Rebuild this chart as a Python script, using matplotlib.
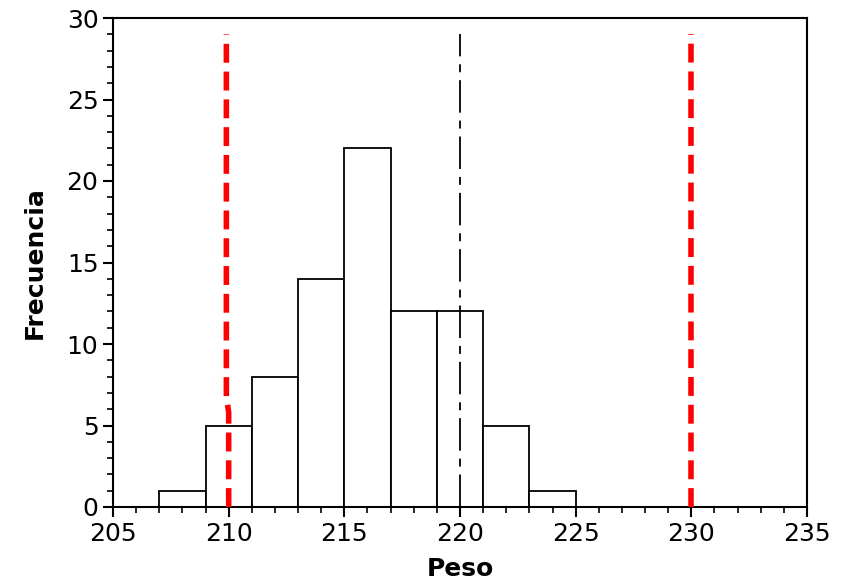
import matplotlib.pyplot as plt
import numpy as np
from matplotlib.ticker import MultipleLocator

bin_edges = [207, 209, 211, 213, 215, 217, 219, 221, 223, 225]
counts = [1, 5, 8, 14, 22, 12, 12, 5, 1]

lower_x = [210, 210, 209.9, 209.9]
lower_y = [0, 5.8, 6.8, 29]
upper_x = [230, 230]
upper_y = [0, 29]
target_x = [220, 220]
target_y = [0, 29]

fig = plt.figure(figsize=(8.47, 5.86), dpi=100)
ax = fig.add_axes([113/847, 1-507/586, (807-113)/847, (507-18)/586])

ax.hist(bin_edges[:-1], bins=bin_edges, weights=counts,
        facecolor="white", edgecolor="black", linewidth=1.3, zorder=2)

ax.plot(lower_x, lower_y, color="red", lw=4, dashes=(3.4, 1.6), zorder=3)
ax.plot(upper_x, upper_y, color="red", lw=4, dashes=(3.4, 1.6), zorder=3)
ax.plot(target_x, target_y, color="black", lw=1.3, dashes=(18, 4.4, 4.4, 4.4), zorder=3)

ax.set_xlim(205, 235)
ax.set_ylim(0, 30)
ax.xaxis.set_major_locator(MultipleLocator(5))
ax.xaxis.set_minor_locator(MultipleLocator(1))
ax.yaxis.set_major_locator(MultipleLocator(5))
ax.yaxis.set_minor_locator(MultipleLocator(1))
ax.tick_params(which="major", direction="out", length=7, width=1.5, labelsize=18, colors="black")
ax.tick_params(which="minor", direction="out", length=4, width=1.2)
for s in ax.spines.values():
    s.set_linewidth(1.5)

ax.set_xlabel("Peso", fontsize=18, fontweight="bold", labelpad=8)
ax.set_ylabel("Frecuencia", fontsize=18, fontweight="bold", labelpad=14)

fig.savefig("out.png", dpi=100)
